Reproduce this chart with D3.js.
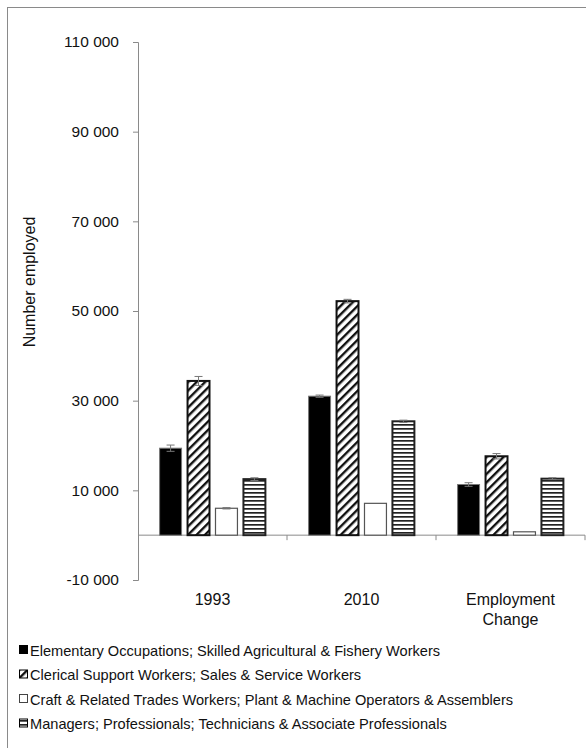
<!DOCTYPE html>
<html>
<head>
<meta charset="utf-8">
<script src="https://cdn.jsdelivr.net/npm/d3@7"></script>
<style>
  html, body { margin: 0; padding: 0; background: #fff; }
  svg { display: block; font-family: "Liberation Sans", Arial, sans-serif; }
</style>
</head>
<body>
<svg id="chart" width="586" height="748"></svg>
<script>
// Groups along the x axis (multi-line labels split on "\n")
const groups = ["1993", "2010", "Employment\nChange"];

// Occupation series, in legend order
const seriesNames = [
  "Elementary Occupations; Skilled Agricultural & Fishery Workers",
  "Clerical Support Workers; Sales & Service Workers",
  "Craft & Related Trades Workers; Plant & Machine Operators & Assemblers",
  "Managers; Professionals; Technicians & Associate Professionals"
];

// Number employed per group, one array per series
const elementary = [19400, 31000, 11300];
const clerical   = [34400, 52200, 17600];
const craft      = [6000, 7100, 750];
const managers   = [12500, 25400, 12600];

// Standard errors for each bar
const elementaryErr = [700, 250, 400];
const clericalErr   = [1000, 400, 600];
const craftErr      = [150, 0, 0];
const managersErr   = [300, 250, 200];

// Y axis ticks
const yTicks = [-10000, 10000, 30000, 50000, 70000, 90000, 110000];

const values = [elementary, clerical, craft, managers];
const errors = [elementaryErr, clericalErr, craftErr, managersErr];
const fills = ["solid", "diag", "empty", "horiz"];

const FONT = "Liberation Sans, Arial, sans-serif";

const svg = d3.select("#chart");
const defs = svg.append("defs");

// Diagonal hatch pattern
const diag = defs.append("pattern")
  .attr("id", "diag").attr("patternUnits", "userSpaceOnUse")
  .attr("width", 6).attr("height", 6)
  .attr("patternTransform", "rotate(45)");
diag.append("rect").attr("width", 6).attr("height", 6).attr("fill", "#fff");
diag.append("rect").attr("x", 0).attr("y", 0).attr("width", 2.4).attr("height", 6).attr("fill", "#111");

// Horizontal stripe pattern
const horiz = defs.append("pattern")
  .attr("id", "horiz").attr("patternUnits", "userSpaceOnUse")
  .attr("width", 8).attr("height", 4);
horiz.append("rect").attr("width", 8).attr("height", 4).attr("fill", "#fff");
horiz.append("rect").attr("y", 0).attr("width", 8).attr("height", 1.7).attr("fill", "#222");

const fillFor = k => ({ solid: "#000", diag: "url(#diag)", empty: "#fff", horiz: "url(#horiz)" })[k];
const strokeFor = k => ({ solid: "#777", diag: "#111", empty: "#555", horiz: "#222" })[k];
const strokeW = k => ({ solid: 1, diag: 2, empty: 1.2, horiz: 2 })[k];

// Outer frame
svg.append("rect")
  .attr("x", 7.5).attr("y", 7.5).attr("width", 600).attr("height", 760)
  .attr("fill", "none").attr("stroke", "#8a8a8a").attr("stroke-width", 1);

const plotLeft = 138, plotRight = 585, plotTop = 42, plotBottom = 580;

const y = d3.scaleLinear().domain([-10000, 110000]).range([plotBottom, plotTop]);
const x0 = d3.scaleBand().domain(groups).range([plotLeft, plotRight]).padding(0);
const x1 = d3.scaleBand().domain(d3.range(seriesNames.length))
  .range([x0.bandwidth() * 0.145, x0.bandwidth() * 0.855])
  .paddingInner(6 / 28).paddingOuter(0);

const loc = d3.formatLocale({ decimal: ".", thousands: " ", grouping: [3], currency: ["", ""], minus: "-" });
const fmt = loc.format(",d");

// Y axis
const yAxis = svg.append("g")
  .attr("transform", `translate(${plotLeft},0)`)
  .call(d3.axisLeft(y).tickValues(yTicks).tickFormat(fmt).tickSize(5).tickPadding(14));
yAxis.select(".domain").attr("stroke", "#8a8a8a");
yAxis.selectAll(".tick line").attr("stroke", "#8a8a8a");
yAxis.selectAll(".tick text")
  .attr("font-size", 15.5).attr("fill", "#111")
  .attr("font-family", FONT);

// Zero baseline with category separators
const xAxis = svg.append("g")
  .attr("transform", `translate(0,${y(0)})`);
xAxis.append("line")
  .attr("x1", plotLeft).attr("x2", plotRight)
  .attr("stroke", "#8a8a8a");
xAxis.selectAll("line.sep")
  .data(groups.slice(1).map(g => x0(g)).concat([plotRight]))
  .join("line").attr("class", "sep")
  .attr("x1", d => d).attr("x2", d => d)
  .attr("y1", 0).attr("y2", 5)
  .attr("stroke", "#8a8a8a");

// Category labels
const lab = svg.append("g");
groups.forEach(g => {
  const lines = g.split("\n");
  lines.forEach((ln, i) => {
    lab.append("text")
      .attr("x", x0(g) + x0.bandwidth() / 2)
      .attr("y", 605 + i * 20)
      .attr("text-anchor", "middle")
      .attr("font-family", FONT)
      .attr("font-size", 16).attr("fill", "#111")
      .text(ln);
  });
});

// Y axis title
svg.append("text")
  .attr("transform", `translate(35,282) rotate(-90)`)
  .attr("text-anchor", "middle")
  .attr("font-family", FONT)
  .attr("font-size", 16).attr("fill", "#111")
  .text("Number employed");

// Bars
const barData = [];
groups.forEach((g, gi) => {
  seriesNames.forEach((s, si) => {
    barData.push({ g, si, v: values[si][gi], e: errors[si][gi] });
  });
});

const bars = svg.append("g");
bars.selectAll("rect")
  .data(barData)
  .join("rect")
  .attr("x", d => x0(d.g) + x1(d.si))
  .attr("width", x1.bandwidth())
  .attr("y", d => y(Math.max(0, d.v)))
  .attr("height", d => Math.abs(y(d.v) - y(0)))
  .attr("fill", d => fillFor(fills[d.si]))
  .attr("stroke", d => strokeFor(fills[d.si]))
  .attr("stroke-width", d => strokeW(fills[d.si]));

// Error bars
const eb = svg.append("g").attr("stroke", "#777").attr("stroke-width", 1);
barData.filter(d => d.e > 0).forEach(d => {
  const cx = x0(d.g) + x1(d.si) + x1.bandwidth() / 2;
  const y1 = y(d.v + d.e), y2 = y(d.v - d.e);
  eb.append("line").attr("x1", cx).attr("x2", cx).attr("y1", y1).attr("y2", y2);
  eb.append("line").attr("x1", cx - 4).attr("x2", cx + 4).attr("y1", y1).attr("y2", y1);
  eb.append("line").attr("x1", cx - 4).attr("x2", cx + 4).attr("y1", y2).attr("y2", y2);
});

// Legend
const legend = svg.append("g");
seriesNames.forEach((s, i) => {
  const cy = 650 + i * 24.5;
  legend.append("rect")
    .attr("x", 19.5).attr("y", cy - 4.5).attr("width", 8).attr("height", 8)
    .attr("fill", fillFor(fills[i]))
    .attr("stroke", fills[i] === "empty" ? "#444" : "#000")
    .attr("stroke-width", 1);
  legend.append("text")
    .attr("x", 30).attr("y", cy + 5.5)
    .attr("font-family", FONT)
    .attr("font-size", 14.6).attr("fill", "#111")
    .text(s);
});
</script>
</body>
</html>
